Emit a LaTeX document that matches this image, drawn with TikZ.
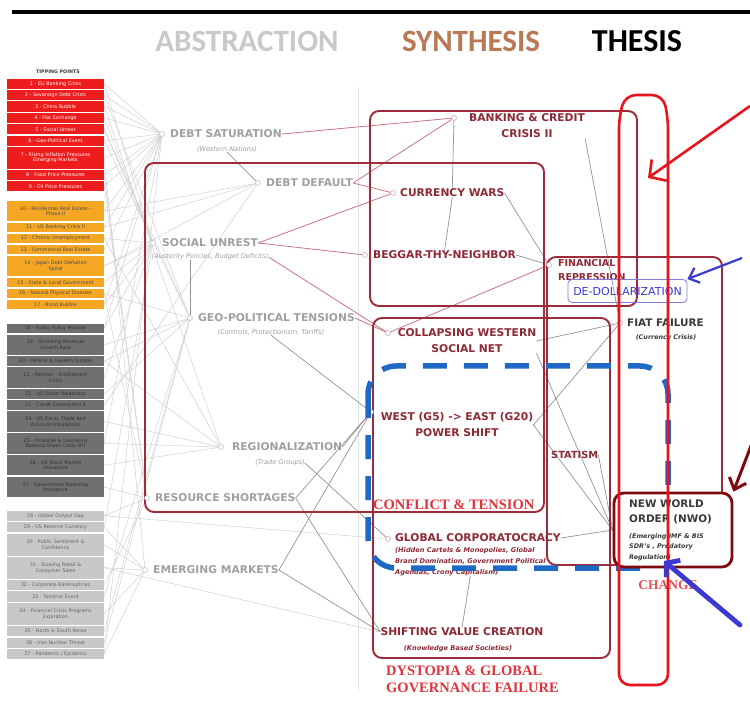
\documentclass[tikz,border=0pt]{standalone}
\usepackage{fontspec}
\setmainfont{DejaVu Sans}
\newfontfamily\hdfont{Carlito}
\newfontfamily\rserif{Liberation Serif}
\usetikzlibrary{arrows.meta,calc}
\definecolor{tpred}{HTML}{EE1C1C}
\definecolor{tporange}{HTML}{F5A623}
\definecolor{tpdark}{HTML}{707070}
\definecolor{tplight}{HTML}{C8C8C8}
\definecolor{absgray}{HTML}{A0A0A0}
\definecolor{syncol}{HTML}{8E2A36}
\definecolor{boxred}{HTML}{9E2B3A}
\definecolor{rlinec}{HTML}{C77583}
\definecolor{hdsyn}{HTML}{B87A55}
\definecolor{hdabs}{HTML}{C9C9C9}
\definecolor{thesred}{HTML}{E8141C}
\definecolor{nwored}{HTML}{7E0A10}
\definecolor{bluedashc}{HTML}{1F68C4}
\definecolor{bluearr}{HTML}{3A3AD0}
\definecolor{redtitle}{HTML}{E2323A}
\definecolor{darktext}{HTML}{3A3A3A}
\pgfdeclarelayer{back}
\pgfdeclarelayer{bg}
\pgfsetlayers{back,bg,main}
\newcommand\tpitem[6]{%
  \node[tpn, fill=#4, text=#5, minimum height={#3-#2-1.3}] (#1) at (55.5,{(#2+#3)/2}) {#6};}
\begin{document}
\begin{tikzpicture}[x=1pt,y=-1pt,
  tpn/.style={minimum width=97, inner sep=0pt, text width=96, align=center, font=\fontsize{4.9}{5.6}\selectfont},
  abs/.style={anchor=west, inner sep=0pt, text=absgray, font=\fontsize{10.7}{13}\selectfont\bfseries},
  abssub/.style={inner sep=0pt, text=absgray, font=\fontsize{6.6}{8}\selectfont\itshape},
  mk/.style={circle, draw=absgray!70, fill=white, line width=0.5pt, inner sep=0pt, minimum size=5pt},
  mks/.style={circle, draw=syncol!45, fill=white, line width=0.5pt, inner sep=0pt, minimum size=5pt},
  syn/.style={inner sep=0pt, text=syncol, align=center, font=\fontsize{10.7}{16}\selectfont\bfseries},
  synsub/.style={inner sep=0pt, text=syncol, align=left, font=\fontsize{6.6}{11}\selectfont\bfseries\itshape},
  thes/.style={inner sep=0pt, text=darktext, align=left, font=\fontsize{10.4}{14.5}\selectfont\bfseries},
  thsub/.style={inner sep=0pt, text=darktext, align=left, font=\fontsize{6.4}{10.5}\selectfont\bfseries\itshape},
  redlab/.style={inner sep=0pt, text=redtitle, align=left, font=\rserif\fontsize{14.5}{16.5}\selectfont\bfseries},
  hd/.style={inner sep=0pt, font=\hdfont\fontsize{31}{36}\selectfont\bfseries},
  tpline/.style={draw=black!18, line width=0.5pt},
  gline/.style={draw=black!42, line width=0.7pt},
  rline/.style={draw=rlinec, line width=0.8pt},
  boxst/.style={draw=boxred, line width=1.9pt, rounded corners=9pt},
  bluedash/.style={draw=bluedashc, line width=5.5pt, rounded corners=28pt, dash pattern=on 24pt off 17pt},
  redarrow/.style={draw=thesred, line width=2.6pt, -{Straight Barb[length=12pt,width=26pt]}},
  bluearrow/.style={draw=bluearr, line width=2.2pt, -{Straight Barb[length=9pt,width=16pt]}},
  bluearrowb/.style={draw=bluearr, line width=4.8pt, line cap=round, -{Straight Barb[length=9pt,width=22pt]}},
  darkarrow/.style={draw=nwored, line width=3pt, -{Straight Barb[length=10pt,width=18pt]}}
]
\useasboundingbox (0,0) rectangle (750,703);
\begin{pgfonlayer}{back}
\fill[white] (0,0) rectangle (750,703);
\end{pgfonlayer}
\draw[line width=4pt] (12,12) -- (752,12);

% headers
\node[hd, text=hdabs] (h1) at (247,41) {ABSTRACTION};
\node[hd, text=hdsyn] (h2) at (471,41) {SYNTHESIS};
\node[hd, text=black, font=\hdfont\fontsize{32}{36}\selectfont\bfseries] (h3) at (637,41) {THESIS};

% tipping points
\node[inner sep=0pt, text=darktext, font=\fontsize{4.8}{5}\selectfont\bfseries] (tpt) at (58,72) {TIPPING POINTS};
\tpitem{tp1}{78}{89.4}{tpred}{white}{1 - EU Banking Crisis}
\tpitem{tp2}{89.4}{100.8}{tpred}{white}{2 - Sovereign Debt Crisis}
\tpitem{tp3}{100.8}{112.2}{tpred}{white}{3 - China Bubble}
\tpitem{tp4}{112.2}{123.6}{tpred}{white}{4 - Fiat Exchange}
\tpitem{tp5}{123.6}{135}{tpred}{white}{5 - Social Unrest}
\tpitem{tp6}{135}{146.4}{tpred}{white}{6 - Geo-Political Event}
\tpitem{tp7}{146.4}{169.2}{tpred}{white}{7 - Rising Inflation Pressures\\Emerging Markets}
\tpitem{tp8}{169.2}{180.6}{tpred}{white}{8 - Food Price Pressures}
\tpitem{tp9}{180.6}{192}{tpred}{white}{9 - Oil Price Pressures}
\tpitem{tp10}{200}{222}{tporange}{black!70}{10 - Residential Real Estate -\\Phase II}
\tpitem{tp11}{222}{233}{tporange}{black!70}{11 - US Banking Crisis II}
\tpitem{tp12}{233}{244}{tporange}{black!70}{12 - Chronic Unemployment}
\tpitem{tp13}{244}{255}{tporange}{black!70}{13 - Commercial Real Estate}
\tpitem{tp14}{255}{277}{tporange}{black!70}{14 - Japan Debt Deflation\\Spiral}
\tpitem{tp15}{277}{288}{tporange}{black!70}{15 - State \& Local Government}
\tpitem{tp16}{288}{299}{tporange}{black!70}{16 - Natural Physical Disaster}
\tpitem{tp17}{299}{310}{tporange}{black!70}{17 - Bond Bubble}
\tpitem{tp18}{323}{333.9}{tpdark}{black!80}{18 - Public Policy Mistake}
\tpitem{tp19}{333.9}{355.8}{tpdark}{black!80}{19 - Shrinking Revenue\\Growth Rate}
\tpitem{tp20}{355.8}{366.8}{tpdark}{black!80}{20 - Central \& Eastern Europe}
\tpitem{tp21}{366.8}{388.6}{tpdark}{black!80}{21 - Pension - Entitlement\\Crisis}
\tpitem{tp22}{388.6}{399.6}{tpdark}{black!80}{22 - US Dollar Weakness}
\tpitem{tp23}{399.6}{410.5}{tpdark}{black!80}{23 - Credit Contraction II}
\tpitem{tp24}{410.5}{432.4}{tpdark}{black!80}{24 - US Fiscal, Trade and\\Account Imbalances}
\tpitem{tp25}{432.4}{454.3}{tpdark}{black!80}{25 - Financial \& Insurance\\Balance Sheet Crisis (FI)}
\tpitem{tp26}{454.3}{476.1}{tpdark}{black!80}{26 - US Stock Market\\Valuations}
\tpitem{tp27}{476.1}{498}{tpdark}{black!80}{27 - Government Backstop\\Insurance}
\tpitem{tp28}{510}{521.5}{tplight}{black!60}{28 - Global Output Gap}
\tpitem{tp29}{521.5}{533.1}{tplight}{black!60}{29 - US Reserve Currency}
\tpitem{tp30}{533.1}{556.2}{tplight}{black!60}{30 - Public Sentiment \&\\Confidence}
\tpitem{tp31}{556.2}{579.2}{tplight}{black!60}{31 - Slowing Retail \&\\Consumer Sales}
\tpitem{tp32}{579.2}{590.8}{tplight}{black!60}{32 - Corporate Bankruptcies}
\tpitem{tp33}{590.8}{602.3}{tplight}{black!60}{33 - Terrorist Event}
\tpitem{tp34}{602.3}{625.4}{tplight}{black!60}{34 - Financial Crisis Programs\\Expiration}
\tpitem{tp35}{625.4}{636.9}{tplight}{black!60}{35 - North \& South Korea}
\tpitem{tp36}{636.9}{648.5}{tplight}{black!60}{36 - Iran Nuclear Threat}
\tpitem{tp37}{648.5}{660}{tplight}{black!60}{37 - Pandemic / Epidemic}

% abstraction
\node[mk] (dsm) at (162,134) {};
\node[abs] (ds) at (170,134) {DEBT SATURATION};
\node[abssub] (dss) at (227,149) {(Western Nations)};
\node[mk] (ddm) at (258,183) {};
\node[abs] (dd) at (266,183) {DEBT DEFAULT};
\node[mk] (sum) at (153,243) {};
\node[abs] (su) at (162,243) {SOCIAL UNREST};
\node[abssub] (sus) at (210,257) {(Austerity Policies, Budget Deficits)};
\node[mk] (gpm) at (190,318) {};
\node[abs] (gp) at (198,318) {GEO-POLITICAL TENSIONS};
\node[abssub] (gps) at (271,332) {(Controls, Protectionism, Tariffs)};
\node[mk] (rgm) at (221,447) {};
\node[abs] (rg) at (232,447) {REGIONALIZATION};
\node[abssub] (rgs) at (280,463) {(Trade Groups)};
\node[mk] (rsm) at (147,498) {};
\node[abs] (rs) at (155,498) {RESOURCE SHORTAGES};
\node[mk] (emm) at (145,570) {};
\node[abs] (em) at (153,570) {EMERGING MARKETS};

% synthesis
\node[mks] (bkm) at (454,118) {};
\node[syn] (bk) at (527,126) {BANKING \& CREDIT\\CRISIS II};
\node[mks] (cwm) at (393,193) {};
\node[syn, anchor=west] (cw) at (400,193) {CURRENCY WARS};
\node[mks] (bnm) at (365,255) {};
\node[syn, anchor=west] (bn) at (373,255) {BEGGAR-THY-NEIGHBOR};
\node[mks] (frm) at (549,265) {};
\node[syn, anchor=west, align=left, font=\fontsize{9.5}{13.5}\selectfont\bfseries] (fr) at (558,270) {FINANCIAL\\REPRESSION};
\node[mks] (clm) at (388,333) {};
\node[syn] (cl) at (467,341) {COLLAPSING WESTERN\\SOCIAL NET};
\node[mks] (wsm) at (371,412) {};
\node[syn] (ws) at (457,425) {WEST (G5) -> EAST (G20)\\POWER SHIFT};
\node[syn, anchor=west, font=\fontsize{9.8}{12}\selectfont\bfseries] (st) at (551,455) {STATISM};
\node[mks] (gcm) at (388,539) {};
\node[syn, anchor=west] (gc) at (395,538) {GLOBAL CORPORATOCRACY};
\node[synsub, anchor=north west] (gcs) at (395,547) {(Hidden Cartels \& Monopolies, Global\\Brand Domination, Government Political\\Agendas, Crony Capitalism)};
\node[syn] (sv) at (462,632) {SHIFTING VALUE CREATION};
\node[synsub] (svs) at (458,649) {(Knowledge Based Societies)};
\node[redlab, anchor=west] (ct) at (373,505) {CONFLICT \& TENSION};
\node[redlab, anchor=north west] (dy) at (386,666) {DYSTOPIA \& GLOBAL\\GOVERNANCE FAILURE};

% thesis
\node[mks] (ffm) at (620,323) {};
\node[thes, anchor=west] (ff) at (627,323) {FIAT FAILURE};
\node[thsub] (ffs) at (666,338) {(Currency Crisis)};
\node[inner sep=0pt, draw=bluearr!65, line width=0.8pt, rounded corners=4pt, minimum width=119, minimum height=23, text=bluearr, font=\fontsize{11}{13}\selectfont] (dedo) at (627.5,291) {DE-DOLLARIZATION};

% blue dashed frame
\draw[bluedash] (368,366) rectangle (668,568);

% NWO
\node[draw=nwored, line width=2.8pt, rounded corners=10pt, fill=white, minimum width=118, minimum height=74] (nwo) at (673,530) {};
\node[thes, anchor=north west] (nwot) at (629,500) {NEW WORLD\\ORDER (NWO)};
\node[thsub, anchor=north west] (nwos) at (629,533) {(Emerging IMF \& BIS\\SDR's , Predatory\\Regulation)};
\node[redlab, text=redtitle!85, font=\rserif\fontsize{13.5}{15}\selectfont\bfseries] (ch) at (668,585) {CHANGE};

% thesis outline (tall hand-drawn loop)
\draw[draw=thesred, line width=2.6pt, rounded corners=11pt] (619,685) -- (619,118) -- (625,95) -- (663,95) -- (668,118) -- (668,685) -- cycle;

% arrows
\coordinate (ra1) at (750,106);
\coordinate (ra2) at (648,178);
\draw[redarrow] (ra1) -- (ra2);
\coordinate (ba1) at (742,258);
\draw[bluearrow] (ba1) -- (dedo.north east);
\coordinate (bb1) at (740,625);
\coordinate (bb2) at (664,561);
\draw[bluearrowb] (bb1) -- (bb2);
\coordinate (da1) at (754,438);
\draw[darkarrow] (da1) -- (nwo.north east);

\begin{pgfonlayer}{bg}
\draw[black!10, line width=0.8pt] (358,87) -- (358,690);
\foreach \a/\b in {tp1/dsm,tp1/sum,tp2/dsm,tp2/gpm,tp3/dsm,tp3/rgm,tp4/dsm,tp4/sum,tp5/sum,tp5/gpm,tp6/gpm,tp6/dsm,tp7/dsm,tp7/emm,tp8/rsm,tp8/dsm,tp9/rsm,tp9/dsm,tp10/dsm,tp10/ddm,tp11/ddm,tp11/dsm,tp12/sum,tp12/rgm,tp13/dsm,tp14/sum,tp14/ddm,tp15/sum,tp16/gpm,tp16/rsm,tp17/dsm,tp17/sum,tp18/dsm,tp18/sum,tp19/gpm,tp20/gpm,tp20/rgm,tp21/sum,tp22/gpm,tp23/ddm,tp24/rgm,tp25/rgm,tp25/dsm,tp26/rgm,tp27/rsm,tp28/rsm,tp28/gcm,tp29/emm,tp29/sum,tp30/emm,tp31/emm,tp31/sv.west,tp32/rsm,tp33/gpm,tp34/emm,tp35/gpm,tp36/gpm,tp37/emm,tp37/dsm}
  \draw[tpline] (\a.east) -- (\b);
\draw[rline] (ds.east) -- (bkm);
\draw[rline] (dd.east) -- (bkm);
\draw[rline] (dd.east) -- (cwm);
\draw[rline] (su.east) -- (cwm);
\draw[rline] (su.east) -- (bnm);
\draw[rline] (sus.east) -- (clm);
\draw[rline] (gp.east) -- (clm);
\draw[rline] (clm) -- (frm);
\draw[gline] (dss.south) -- (ddm);
\draw[gline] (sus.south -| gpm) -- (gpm);
\draw[gline] (gps.south) -- (wsm);
\draw[gline] (rg.east) -- (wsm);
\draw[gline] (rs.east) -- (wsm);
\draw[gline] (em.east) -- (wsm);
\draw[gline] (rs.east) -- (sv.west);
\draw[gline] (em.east) -- (sv.west);
\draw[gline] (rgs.east) -- (gcm);
\draw[gline] (bkm) -- (cw.north);
\draw[gline] (cw.south) -- (bn.north);
\draw[gline] (cw.east) -- (frm);
\draw[gline] (bn.east) -- (frm);
\draw[gline] (bk.south east) -- (ffm);
\draw[gline] (cl.east) -- (ffm);
\draw[gline] (ws.east) -- (ffm);
\draw[gline] (cl.south east) -- (nwo.west);
\draw[gline] (ws.east) -- (nwo.west);
\draw[gline] (st.east) -- (nwo.west);
\draw[gline] (gc.east) -- (nwo.west);
\draw[gline] (sv.north) -- (gcs.south);
\draw[boxst] (145,163) rectangle (544,512);
\draw[boxst] (370,111) rectangle (637,306);
\draw[boxst] (373,318) rectangle (610,658);
\draw[boxst] (547,257) rectangle (722,565);
\end{pgfonlayer}
\end{tikzpicture}
\end{document}
